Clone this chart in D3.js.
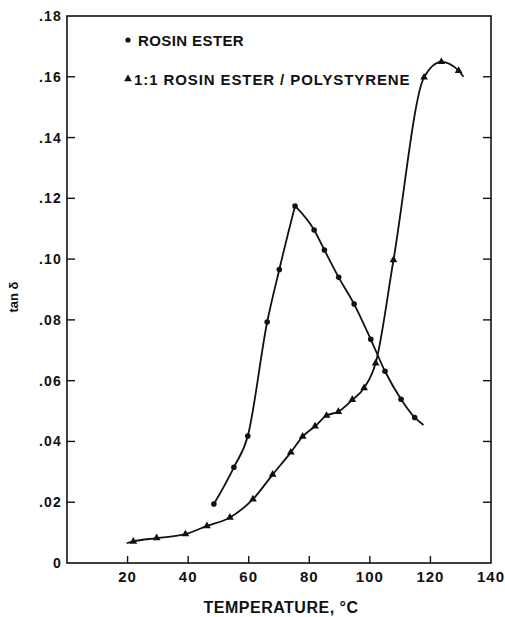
<!DOCTYPE html>
<html>
<head>
<meta charset="utf-8">
<script src="https://cdn.jsdelivr.net/npm/d3@7"></script>
<style>
    body { margin: 0; background: #fff; }
    text { font-family: "Liberation Sans", Arial, sans-serif; font-weight: bold; fill: #111; }
</style>
</head>
<body>
<div id="chart"></div>
<script>
// rosin ester (dots); last point is where the drawn curve stops, no marker
const rosinTemp = [48.5, 55.1, 59.7, 66.1, 70.1, 75.3, 81.6, 85.0, 89.7, 94.8, 100.3, 105.0, 110.3, 114.8, 117.7];
const rosinTan  = [0.0194, 0.0315, 0.0418, 0.0793, 0.0966, 0.1175, 0.1096, 0.1030, 0.0940, 0.0852, 0.0736, 0.0631, 0.0539, 0.0479, 0.0454];
const rosinMarked = [true, true, true, true, true, true, true, true, true, true, true, true, true, true, false];

// 1:1 rosin ester / polystyrene (triangles); first and last are curve ends only
const blendTemp = [19.7, 21.9, 29.6, 39.1, 46.2, 53.8, 61.4, 67.9, 73.9, 77.8, 81.9, 85.7, 89.6, 94.2, 98.1, 101.9, 107.8, 117.9, 123.6, 129.3, 130.9];
const blendTan  = [0.0065, 0.0071, 0.0082, 0.0095, 0.0122, 0.0150, 0.0210, 0.0291, 0.0364, 0.0416, 0.0450, 0.0485, 0.0498, 0.0537, 0.0576, 0.0657, 0.0997, 0.1598, 0.1649, 0.1620, 0.1600];
const blendMarked = [false, true, true, true, true, true, true, true, true, true, true, true, true, true, true, true, true, true, true, true, false];

const xTicks = [20, 40, 60, 80, 100, 120, 140];
const yTicks = [0, 0.02, 0.04, 0.06, 0.08, 0.10, 0.12, 0.14, 0.16, 0.18];
const yTickLabels = ["0", ".02", ".04", ".06", ".08", ".10", ".12", ".14", ".16", ".18"];
const legendLabels = ["ROSIN ESTER", "1:1 ROSIN ESTER / POLYSTYRENE"];

const width = 505, height = 617;
const margin = { top: 16, right: 14, bottom: 54, left: 67 };

const svg = d3.select("#chart").append("svg")
    .attr("width", width)
    .attr("height", height);

const x = d3.scaleLinear().domain([0, 140]).range([margin.left, width - margin.right]);
const y = d3.scaleLinear().domain([0, 0.18]).range([height - margin.bottom, margin.top]);

const g = svg.append("g");

// frame
g.append("rect")
    .attr("x", x(0)).attr("y", y(0.18))
    .attr("width", x(140) - x(0)).attr("height", y(0) - y(0.18))
    .attr("fill", "none").attr("stroke", "#111").attr("stroke-width", 1.6);

// inward ticks on left, right and bottom
const yIdx = d3.range(yTicks.length);
g.selectAll(".ytl").data(yTicks.slice(1, -1)).enter().append("line")
    .attr("x1", x(0)).attr("x2", x(0) + 8)
    .attr("y1", d => y(d)).attr("y2", d => y(d))
    .attr("stroke", "#111").attr("stroke-width", 1.4);
g.selectAll(".ytr").data(yTicks.slice(1, -1)).enter().append("line")
    .attr("x1", x(140)).attr("x2", x(140) - 8)
    .attr("y1", d => y(d)).attr("y2", d => y(d))
    .attr("stroke", "#111").attr("stroke-width", 1.4);
g.selectAll(".xt").data(xTicks.slice(0, -1)).enter().append("line")
    .attr("x1", d => x(d)).attr("x2", d => x(d))
    .attr("y1", y(0)).attr("y2", y(0) - 7)
    .attr("stroke", "#111").attr("stroke-width", 1.4);

// tick labels
g.selectAll(".ylab").data(yIdx).enter().append("text")
    .attr("x", x(0) - 5)
    .attr("y", i => y(yTicks[i]) + 5)
    .attr("text-anchor", "end")
    .attr("font-size", 14)
    .attr("letter-spacing", 1.2)
    .text(i => yTickLabels[i]);

g.selectAll(".xlab").data(xTicks).enter().append("text")
    .attr("x", d => x(d))
    .attr("y", y(0) + 19)
    .attr("text-anchor", "middle")
    .attr("font-size", 15)
    .attr("letter-spacing", 1)
    .text(d => d);

// axis titles
svg.append("text")
    .attr("x", x(70) + 2)
    .attr("y", 613)
    .attr("text-anchor", "middle")
    .attr("font-size", 16)
    .attr("letter-spacing", 0.5)
    .text("TEMPERATURE, \u00B0C");

svg.append("text")
    .attr("transform", "translate(18,297) rotate(-90)")
    .attr("text-anchor", "middle")
    .attr("font-size", 13)
    .text("tan \u03B4");

// curves
const curve = d3.line()
    .x(d => x(d[0]))
    .y(d => y(d[1]))
    .curve(d3.curveMonotoneX);

const rosinPts = rosinTemp.map((t, i) => [t, rosinTan[i], rosinMarked[i]]);
const blendPts = blendTemp.map((t, i) => [t, blendTan[i], blendMarked[i]]);

// rosin ester curve has a sharp peak, draw it as two pieces
const peak = rosinTan.indexOf(d3.max(rosinTan));
[rosinPts.slice(0, peak + 1), rosinPts.slice(peak), blendPts].forEach(p => {
    g.append("path")
        .attr("d", curve(p))
        .attr("fill", "none")
        .attr("stroke", "#111")
        .attr("stroke-width", 1.8);
});

// markers
g.selectAll(".dot").data(rosinPts.filter(d => d[2])).enter().append("circle")
    .attr("cx", d => x(d[0])).attr("cy", d => y(d[1]))
    .attr("r", 2.8).attr("fill", "#111");

const tri = d3.symbol().type(d3.symbolTriangle).size(26);
g.selectAll(".tri").data(blendPts.filter(d => d[2])).enter().append("path")
    .attr("d", tri)
    .attr("transform", d => `translate(${x(d[0])},${y(d[1])})`)
    .attr("fill", "#111");

// legend
const legend = svg.append("g");
legend.append("circle").attr("cx", 128).attr("cy", 40).attr("r", 2.6).attr("fill", "#111");
legend.append("path").attr("d", tri).attr("transform", "translate(128,79)").attr("fill", "#111");
legend.selectAll(".leg").data(legendLabels).enter().append("text")
    .attr("x", (d, i) => i === 0 ? 138 : 134)
    .attr("y", (d, i) => i === 0 ? 46 : 85)
    .attr("font-size", 15)
    .attr("letter-spacing", (d, i) => i === 0 ? 0.4 : 0.9)
    .text(d => d);
</script>
</body>
</html>
